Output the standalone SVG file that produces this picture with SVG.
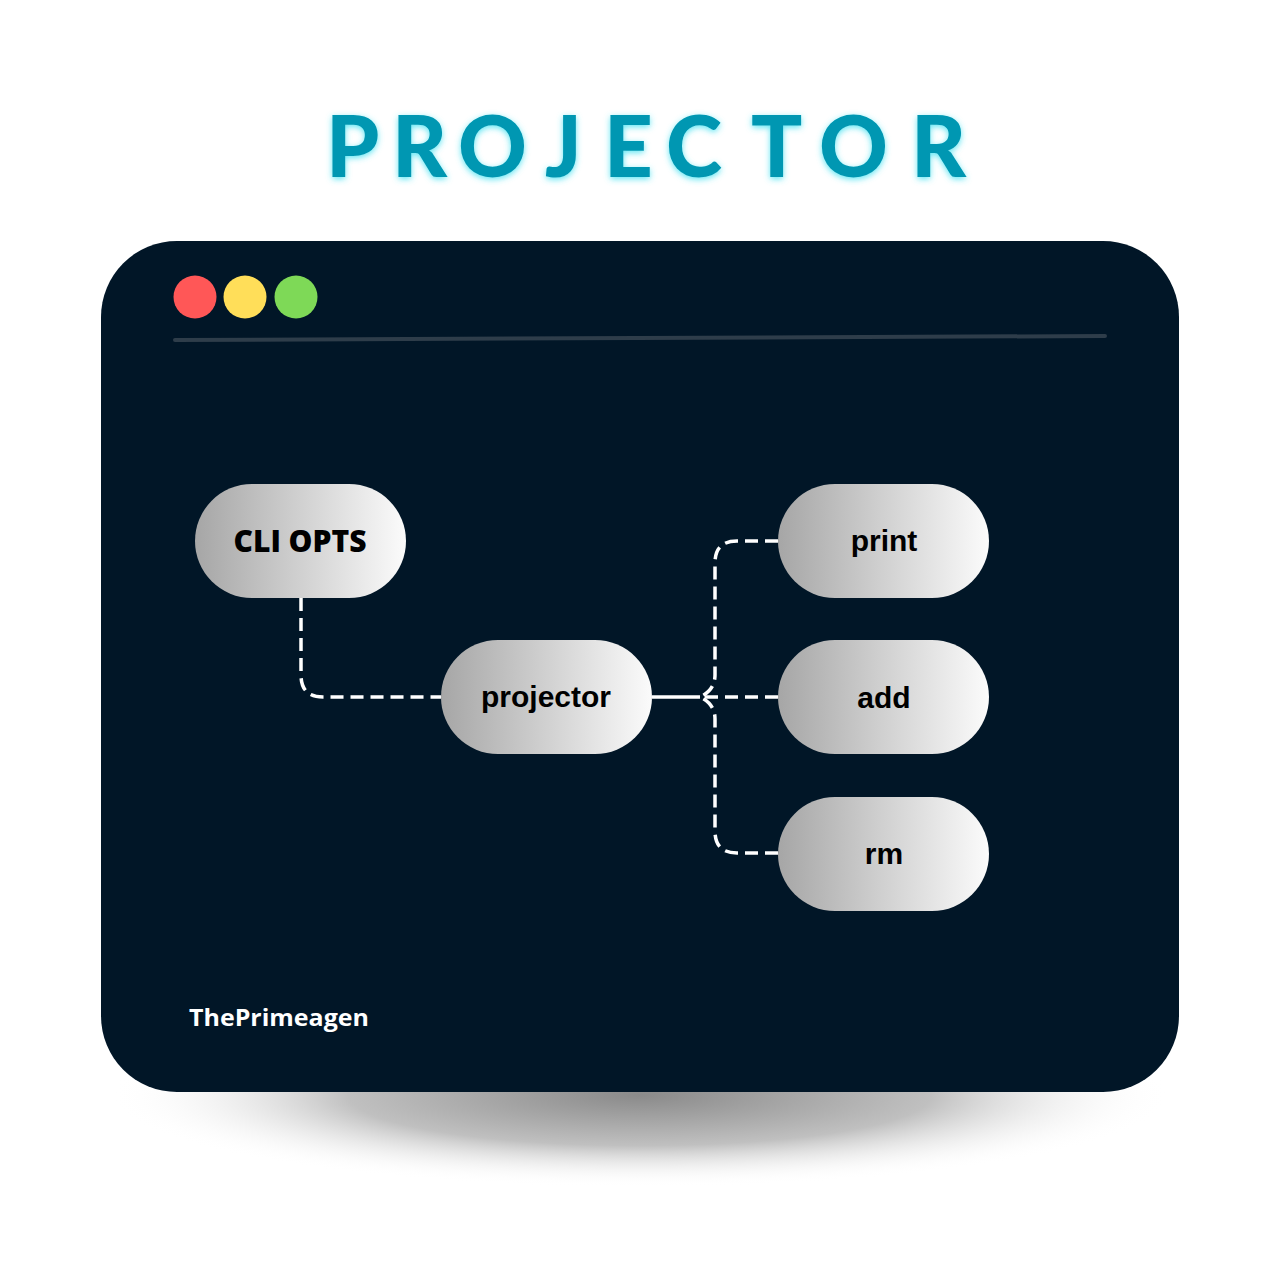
<svg xmlns="http://www.w3.org/2000/svg" width="1280" height="1280" viewBox="0 0 1280 1280">
<style>
.title{font-family:Lato,"Open Sans","Liberation Sans",sans-serif;font-weight:900;font-size:85px;fill:#0097b2}
.lbl{font-family:"Liberation Sans",Arial,sans-serif;font-weight:700;font-size:30px;fill:#000;text-anchor:middle}
.cli{font-family:"Open Sans","Liberation Sans",sans-serif;font-weight:800;font-size:30px;fill:#000;text-anchor:middle}
.brand{font-family:"Open Sans","Liberation Sans",sans-serif;font-weight:700;font-size:23px;fill:#fff}
.pill{fill:url(#pillGrad)}
.dash{fill:none;stroke:#fff;stroke-width:3.5;stroke-dasharray:13 7}
.solid{fill:none;stroke:#fff;stroke-width:3.5}
</style>
<defs>
<linearGradient id="pillGrad" x1="0" y1="0" x2="1" y2="0">
<stop offset="0" stop-color="#a6a6a6"/>
<stop offset="1" stop-color="#fbfbfb"/>
</linearGradient>
<radialGradient id="shadowGrad" cx="0.5" cy="0.5" r="0.5">
<stop offset="0" stop-color="#8a8a8a"/>
<stop offset="0.55" stop-color="#c0c0c0"/>
<stop offset="1" stop-color="#ffffff" stop-opacity="0"/>
</radialGradient>
<filter id="glow" x="-10%" y="-30%" width="120%" height="160%">
<feGaussianBlur in="SourceAlpha" stdDeviation="3" result="b"/>
<feFlood flood-color="#38e0f0" flood-opacity="0.8"/>
<feComposite in2="b" operator="in" result="g"/>
<feOffset dx="0" dy="2" result="g2"/>
<feMerge><feMergeNode in="g2"/><feMergeNode in="SourceGraphic"/></feMerge>
</filter>
</defs>
<rect width="1280" height="1280" fill="#ffffff"/>
<g id="title" filter="url(#glow)">
<text class="title" x="326" y="177">P</text>
<text class="title" x="392" y="177">R</text>
<text class="title" x="458" y="177">O</text>
<text class="title" x="545" y="177">J</text>
<text class="title" x="604" y="177">E</text>
<text class="title" x="666" y="177">C</text>
<text class="title" x="751" y="177">T</text>
<text class="title" x="819" y="177">O</text>
<text class="title" x="911" y="177">R</text>
</g>
<ellipse id="shadow" cx="640" cy="1095" rx="530" ry="92" fill="url(#shadowGrad)"/>
<g id="window">
<rect x="101" y="241" width="1078" height="851" rx="76" fill="#011627"/>
<circle cx="195" cy="297" r="21.5" fill="#ff5757"/>
<circle cx="245" cy="297" r="21.5" fill="#ffde59"/>
<circle cx="296" cy="297" r="21.5" fill="#7ed957"/>
<line x1="175" y1="340" x2="1105" y2="336" stroke="#2e3d4a" stroke-width="4" stroke-linecap="round"/>
</g>
<g id="connectors">
<path class="dash" d="M301 598 V675 Q301 697 323 697 H441"/>
<path class="solid" d="M652 697 H700"/>
<path class="dash" d="M778 541 H737 Q715 541 715 563 V675 Q715 690 700 697"/>
<path class="dash" d="M778 697 H702"/>
<path class="dash" d="M778 853 H737 Q715 853 715 831 V719 Q715 704 700 697"/>
</g>
<g id="node-cli">
<rect class="pill" x="195" y="484" width="211" height="114" rx="57"/>
<text class="cli" x="300" y="552">CLI OPTS</text>
</g>
<g id="node-projector">
<rect class="pill" x="441" y="640" width="211" height="114" rx="57"/>
<text class="lbl" x="546" y="707">projector</text>
</g>
<g id="node-print">
<rect class="pill" x="778" y="484" width="211" height="114" rx="57"/>
<text class="lbl" x="884" y="551">print</text>
</g>
<g id="node-add">
<rect class="pill" x="778" y="640" width="211" height="114" rx="57"/>
<text class="lbl" x="884" y="708">add</text>
</g>
<g id="node-rm">
<rect class="pill" x="778" y="797" width="211" height="114" rx="57"/>
<text class="lbl" x="884" y="864">rm</text>
</g>
<text class="brand" x="189" y="1026" textLength="180" lengthAdjust="spacingAndGlyphs">ThePrimeagen</text>
</svg>
